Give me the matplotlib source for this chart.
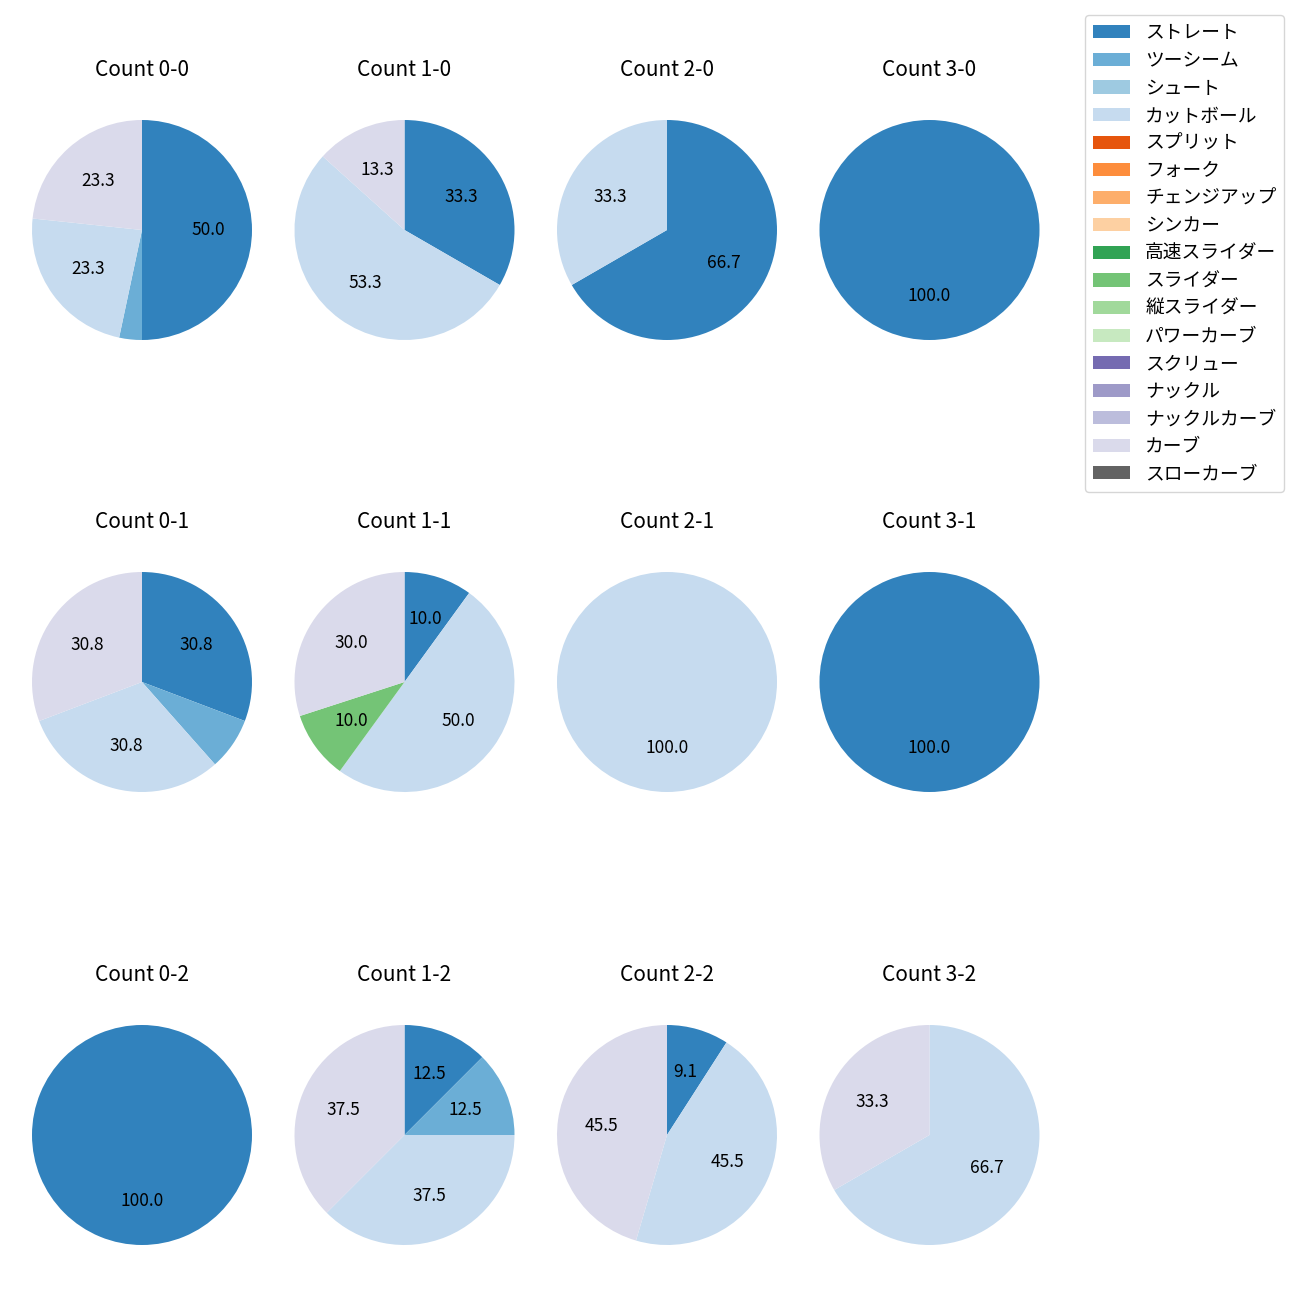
import matplotlib
matplotlib.use("Agg")
import matplotlib.pyplot as plt
from matplotlib.patches import Patch

plt.rcParams['font.family'] = ['Noto Sans CJK JP', 'DejaVu Sans']
plt.rcParams['font.size'] = 12

# 球種 (legend order)
pitches = ["ストレート", "ツーシーム", "シュート", "カットボール", "スプリット",
           "フォーク", "チェンジアップ", "シンカー", "高速スライダー", "スライダー",
           "縦スライダー", "パワーカーブ", "スクリュー", "ナックル", "ナックルカーブ",
           "カーブ", "スローカーブ"]

counts = ["0-0", "1-0", "2-0", "3-0",
          "0-1", "1-1", "2-1", "3-1",
          "0-2", "1-2", "2-2", "3-2"]

# pitch counts per ball-strike count
c_0_0 = {"ストレート": 15, "ツーシーム": 1, "カットボール": 7, "カーブ": 7}
c_1_0 = {"ストレート": 5, "カットボール": 8, "カーブ": 2}
c_2_0 = {"ストレート": 2, "カットボール": 1}
c_3_0 = {"ストレート": 1}
c_0_1 = {"ストレート": 4, "ツーシーム": 1, "カットボール": 4, "カーブ": 4}
c_1_1 = {"ストレート": 1, "カットボール": 5, "スライダー": 1, "カーブ": 3}
c_2_1 = {"カットボール": 1}
c_3_1 = {"ストレート": 1}
c_0_2 = {"ストレート": 1}
c_1_2 = {"ストレート": 1, "ツーシーム": 1, "カットボール": 3, "カーブ": 3}
c_2_2 = {"ストレート": 1, "カットボール": 5, "カーブ": 5}
c_3_2 = {"カットボール": 2, "カーブ": 1}

data = [c_0_0, c_1_0, c_2_0, c_3_0,
        c_0_1, c_1_1, c_2_1, c_3_1,
        c_0_2, c_1_2, c_2_2, c_3_2]

cmap = plt.get_cmap("tab20c")
colors = {p: cmap(i) for i, p in enumerate(pitches)}

fig = plt.figure(figsize=(13, 13), dpi=100)
W = H = 1300.0
side = 275.0
col_x = [142, 404.5, 667, 929.5]
row_y = [230, 682, 1135]


def pct_label(p):
    return f"{p:.1f}" if p >= 8 else ""


for i, (name, d) in enumerate(zip(counts, data)):
    r, c = divmod(i, 4)
    cx, cy = col_x[c], row_y[r]
    ax = fig.add_axes([(cx - side / 2) / W, 1 - (cy + side / 2) / H, side / W, side / H])
    labels = [p for p in pitches if d.get(p, 0) > 0]
    vals = [d[p] for p in labels]
    ax.pie(vals, colors=[colors[p] for p in labels], startangle=90,
           counterclock=False, autopct=pct_label,
           textprops={'fontsize': 12.5})
    ax.set_title(f"Count {name}", pad=12, fontsize=15)

handles = [Patch(facecolor=colors[p], label=p) for p in pitches]
fig.legend(handles=handles, loc="upper right", fontsize=13.5, labelspacing=0.35,
           bbox_to_anchor=(0.9949, 0.9957))

fig.savefig("out.png", dpi=100)
